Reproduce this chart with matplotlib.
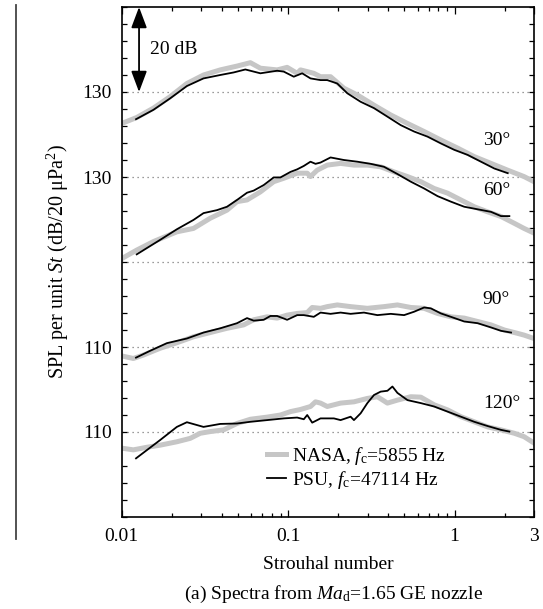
import numpy as np
import matplotlib
matplotlib.use("Agg")
import matplotlib.pyplot as plt
from matplotlib.lines import Line2D
from matplotlib.ticker import FixedLocator, FixedFormatter, NullFormatter

plt.rcParams['font.family'] = ['Liberation Serif', 'DejaVu Serif']
plt.rcParams['mathtext.fontset'] = 'custom'
plt.rcParams['mathtext.rm'] = 'Liberation Serif'
plt.rcParams['mathtext.it'] = 'Liberation Serif:italic'

# ---------------- data (Strouhal number, SPL in dB) ----------------
nasa_st_30 = [0.0100, 0.01231, 0.01550, 0.01954, 0.02464, 0.03101, 0.03910, 0.04930, 0.05929, 0.06810,
              0.08587, 0.09863, 0.1133, 0.1186, 0.1302, 0.1426, 0.1565, 0.1798, 0.2162, 0.2605,
              0.3279, 0.4134, 0.5212, 0.6561, 0.8271, 1.043, 1.313, 1.655, 2.086, 2.615, 3.0]
nasa_spl_30 = [122.6, 124.0, 126.2, 128.9, 132.0, 134.0, 135.2, 136.1, 136.9, 135.6,
               135.2, 135.8, 134.4, 135.2, 134.8, 134.4, 133.6, 133.6, 130.9, 129.3,
               126.9, 124.6, 122.6, 120.7, 118.7, 116.8, 114.8, 113.2, 111.6, 110.1, 108.9]
psu_st_30 = [0.01219, 0.01550, 0.01954, 0.02464, 0.03101, 0.03910, 0.04703, 0.05532, 0.06810, 0.08587,
             0.09409, 0.1081, 0.1214, 0.1362, 0.1565, 0.1718, 0.1973, 0.2267, 0.2726, 0.3279,
             0.3949, 0.4749, 0.5712, 0.6876, 0.8271, 0.9945, 1.198, 1.440, 1.733, 2.086]
psu_spl_30 = [123.6, 125.8, 128.5, 131.4, 133.2, 134.0, 134.6, 135.3, 134.4, 135.0,
              134.8, 133.6, 134.4, 133.2, 132.8, 132.8, 132.0, 129.7, 127.7, 126.2,
              124.2, 122.2, 120.7, 119.5, 117.9, 116.4, 115.2, 113.6, 112.0, 110.9]

nasa_st_60 = [0.0100, 0.01231, 0.01550, 0.02145, 0.02700, 0.03404, 0.04291, 0.04930, 0.05662, 0.06810,
              0.08192, 0.09409, 0.1133, 0.1302, 0.1362, 0.1495, 0.1565, 0.1718, 0.2066, 0.2485,
              0.2992, 0.3597, 0.4326, 0.5212, 0.6266, 0.7536, 0.9075, 1.091, 1.313, 1.580,
              1.901, 2.286, 2.615, 3.0]
nasa_spl_60 = [110.8, 112.8, 114.8, 117.1, 117.9, 120.3, 122.2, 124.2, 124.6, 126.5,
               128.9, 129.7, 130.9, 130.9, 130.1, 131.6, 132.0, 132.8, 133.2, 132.8,
               132.8, 132.4, 131.2, 130.1, 128.9, 127.3, 126.2, 124.6, 123.0, 121.8,
               120.7, 119.1, 117.9, 116.8]
psu_st_60 = [0.01231, 0.01701, 0.02145, 0.02700, 0.03101, 0.03735, 0.04291, 0.04930, 0.05662, 0.06207,
             0.07129, 0.08192, 0.08989, 0.1033, 0.1133, 0.1242, 0.1362, 0.1460, 0.1565, 0.1798,
             0.2162, 0.2605, 0.3132, 0.3767, 0.4535, 0.5455, 0.6561, 0.7901, 0.9500, 1.143,
             1.376, 1.655, 1.901, 2.133]
psu_spl_60 = [111.8, 115.2, 117.7, 119.9, 121.5, 122.2, 123.0, 124.6, 126.3, 126.8,
              128.1, 129.9, 129.9, 131.2, 131.8, 132.6, 133.6, 133.1, 133.4, 134.6,
              134.0, 133.6, 133.1, 132.4, 130.7, 128.9, 127.3, 125.5, 124.2, 123.0,
              122.4, 121.8, 120.8, 120.8]

nasa_st_90 = [0.0100, 0.01175, 0.01349, 0.01701, 0.02145, 0.02700, 0.03404, 0.04291, 0.05402, 0.06207,
              0.07473, 0.08587, 0.09863, 0.1133, 0.1302, 0.1395, 0.1565, 0.1718, 0.1973, 0.2373,
              0.2992, 0.3767, 0.4535, 0.5455, 0.6561, 0.7901, 0.9500, 1.143, 1.376, 1.655,
              1.990, 2.396, 2.615, 3.0]
nasa_spl_90 = [107.9, 107.3, 108.1, 109.7, 111.0, 112.4, 113.4, 114.4, 115.2, 116.4,
               117.1, 116.8, 117.5, 117.9, 118.1, 119.3, 119.1, 119.5, 119.9, 119.5,
               119.1, 119.5, 119.9, 119.3, 119.1, 117.9, 117.1, 116.8, 116.0, 115.2,
               114.0, 113.2, 112.8, 112.0]
psu_st_90 = [0.01219, 0.01481, 0.01867, 0.02464, 0.03101, 0.03910, 0.04930, 0.05662, 0.06207, 0.07129,
             0.07825, 0.08587, 0.09863, 0.1133, 0.1242, 0.1426, 0.1565, 0.1798, 0.2066, 0.2373,
             0.2854, 0.3437, 0.4134, 0.4972, 0.5712, 0.6561, 0.7198, 0.8271, 0.9500, 1.143,
             1.376, 1.655, 1.901, 2.184]
psu_spl_90 = [107.5, 109.1, 110.9, 112.0, 113.4, 114.4, 115.6, 116.8, 116.2, 116.4,
              117.3, 117.3, 116.4, 117.5, 117.5, 117.1, 118.1, 117.8, 118.1, 117.8,
              118.1, 117.5, 117.8, 117.5, 118.3, 119.3, 119.1, 117.9, 117.1, 116.0,
              115.6, 114.6, 113.8, 113.4]

nasa_st_120 = [0.0100, 0.01175, 0.01414, 0.01701, 0.02145, 0.02579, 0.02963, 0.03404, 0.04093, 0.04930,
               0.05929, 0.07473, 0.08989, 0.1033, 0.1186, 0.1362, 0.1460, 0.1565, 0.1718, 0.2066,
               0.2485, 0.2992, 0.3437, 0.3949, 0.4535, 0.5455, 0.6266, 0.7536, 0.9075, 1.091,
               1.313, 1.580, 1.901, 2.286, 2.615, 3.0]
nasa_spl_120 = [106.2, 105.8, 106.4, 106.9, 107.7, 108.5, 109.7, 110.1, 110.5, 112.0,
                113.0, 113.5, 114.0, 114.8, 115.3, 116.0, 117.1, 116.8, 116.0, 116.8,
                117.1, 117.9, 118.3, 116.8, 117.5, 118.3, 118.2, 116.4, 115.2, 113.6,
                112.4, 111.2, 110.5, 109.7, 108.9, 107.4]
psu_st_120 = [0.01219, 0.01701, 0.02145, 0.02464, 0.03101, 0.03910, 0.04930, 0.05929, 0.07473, 0.09409,
              0.1133, 0.1242, 0.1302, 0.1395, 0.1565, 0.1883, 0.2066, 0.2373, 0.2485, 0.2726,
              0.2992, 0.3279, 0.3597, 0.3949, 0.4232, 0.4535, 0.5212, 0.6266, 0.7536, 0.9075,
              1.091, 1.313, 1.580, 1.901, 2.133]
psu_spl_120 = [103.8, 108.1, 111.2, 112.3, 111.2, 111.9, 112.0, 112.4, 112.8, 113.2,
               113.4, 113.0, 114.0, 112.2, 113.2, 113.2, 112.8, 113.6, 112.8, 114.4,
               116.8, 118.7, 119.5, 119.7, 120.7, 119.2, 117.5, 116.8, 116.0, 114.8,
               113.6, 112.4, 111.4, 110.5, 110.1]

angles = ["30°", "60°", "90°", "120°"]
ref_levels = [130, 130, 110, 110]
x_ticks = [0.01, 0.1, 1, 3]
x_tick_labels = ["0.01", "0.1", "1", "3"]
legend_labels = [r"NASA, $f_\mathrm{c}$=5855 Hz", r"PSU, $f_\mathrm{c}$=47114 Hz"]

# vertical shift applied to each angle so the spectra stack (plot offset)
shifts = [30, 50, 70, 90]

nasa = [(nasa_st_30, nasa_spl_30), (nasa_st_60, nasa_spl_60),
        (nasa_st_90, nasa_spl_90), (nasa_st_120, nasa_spl_120)]
psu = [(psu_st_30, psu_spl_30), (psu_st_60, psu_spl_60),
       (psu_st_90, psu_spl_90), (psu_st_120, psu_spl_120)]

# ---------------- figure ----------------
W, H = 543, 609
fig = plt.figure(figsize=(W / 100, H / 100), dpi=100)
ax = fig.add_axes([121.7 / W, 1 - 517 / H, (534 - 121.7) / W, (517 - 7) / H])

GRAY = '#c6c6c6'
for i in range(4):
    st, spl = nasa[i]
    ax.plot(st, np.array(spl) - shifts[i], color=GRAY, lw=3.6, solid_joinstyle='round',
            label=legend_labels[0] if i == 0 else None, zorder=2)
for i in range(4):
    st, spl = psu[i]
    ax.plot(st, np.array(spl) - shifts[i], color='black', lw=1.3,
            label=legend_labels[1] if i == 0 else None, zorder=3)

ax.set_xscale('log')
ax.set_xlim(0.01, 3)
ax.set_ylim(0, 120)

# dotted reference lines
ref_pos = [lev - s for lev, s in zip(ref_levels, shifts)]
for y in sorted(set(ref_pos + [60])):
    ax.axhline(y, color='#7a7a7a', lw=0.9, ls=(0, (1, 3)), zorder=1)

# ticks
yt = list(range(0, 121, 4))
ylabels = []
for y in yt:
    lab = ''
    for lev, p in zip(ref_levels, ref_pos):
        if y == p:
            lab = str(lev)
    ylabels.append(lab)
ax.yaxis.set_major_locator(FixedLocator(yt))
ax.yaxis.set_major_formatter(FixedFormatter(ylabels))
ax.xaxis.set_major_locator(FixedLocator(x_ticks))
ax.xaxis.set_major_formatter(FixedFormatter(x_tick_labels))
minors = [m * 10.0 ** e for e in (-2, -1, 0) for m in range(2, 10) if m * 10.0 ** e < 3]
ax.xaxis.set_minor_locator(FixedLocator(minors))
ax.xaxis.set_minor_formatter(NullFormatter())
ax.tick_params(axis='both', which='both', direction='in', top=True, right=True,
               labelsize=14, width=0.9)
ax.tick_params(axis='x', which='major', length=5, pad=8)
ax.tick_params(axis='x', which='minor', length=3)
ax.tick_params(axis='y', which='major', length=3.5, pad=7)
for sp in ax.spines.values():
    sp.set_linewidth(1.2)

ax.set_xlabel('Strouhal number', fontsize=14, labelpad=8)
ax.set_ylabel(r'SPL per unit $St$ (dB/20 μPa$^2$)', fontsize=14.5, labelpad=8)

# angle labels
ang_y = [0.739, 0.640, 0.4255, 0.2235]
for a, yy in zip(angles, ang_y):
    ax.text(0.876, yy, a, transform=ax.transAxes, fontsize=14, va='center', ha='left')

# 20 dB scale arrow
arrow_x = 10 ** ((139 - 121.7) / 166 - 2)
ax.annotate('', xy=(arrow_x, 120), xytext=(arrow_x, 100),
            arrowprops=dict(arrowstyle='<|-|>,head_length=0.8,head_width=0.3', color='black',
                            lw=1.3, mutation_scale=16, shrinkA=0, shrinkB=0), zorder=4)
ax.text(10 ** ((150 - 121.7) / 166 - 2), 110, '20 dB', fontsize=14, va='center', ha='left')

leg = ax.legend(loc='upper left', bbox_to_anchor=(0.352, 0.141), frameon=False,
                fontsize=14, handlelength=1.0, handletextpad=0.3, labelspacing=0.08,
                borderpad=0, borderaxespad=0)

fig.text(334 / W, 1 - 594 / H, r'(a) Spectra from $Ma_\mathrm{d}$=1.65 GE nozzle',
         fontsize=14, ha='center', va='center')

fig.add_artist(Line2D([16 / W, 16 / W], [1 - 5 / H, 1 - 539 / H], color='#444444', lw=1.3))

fig.savefig('out.png', dpi=100)
